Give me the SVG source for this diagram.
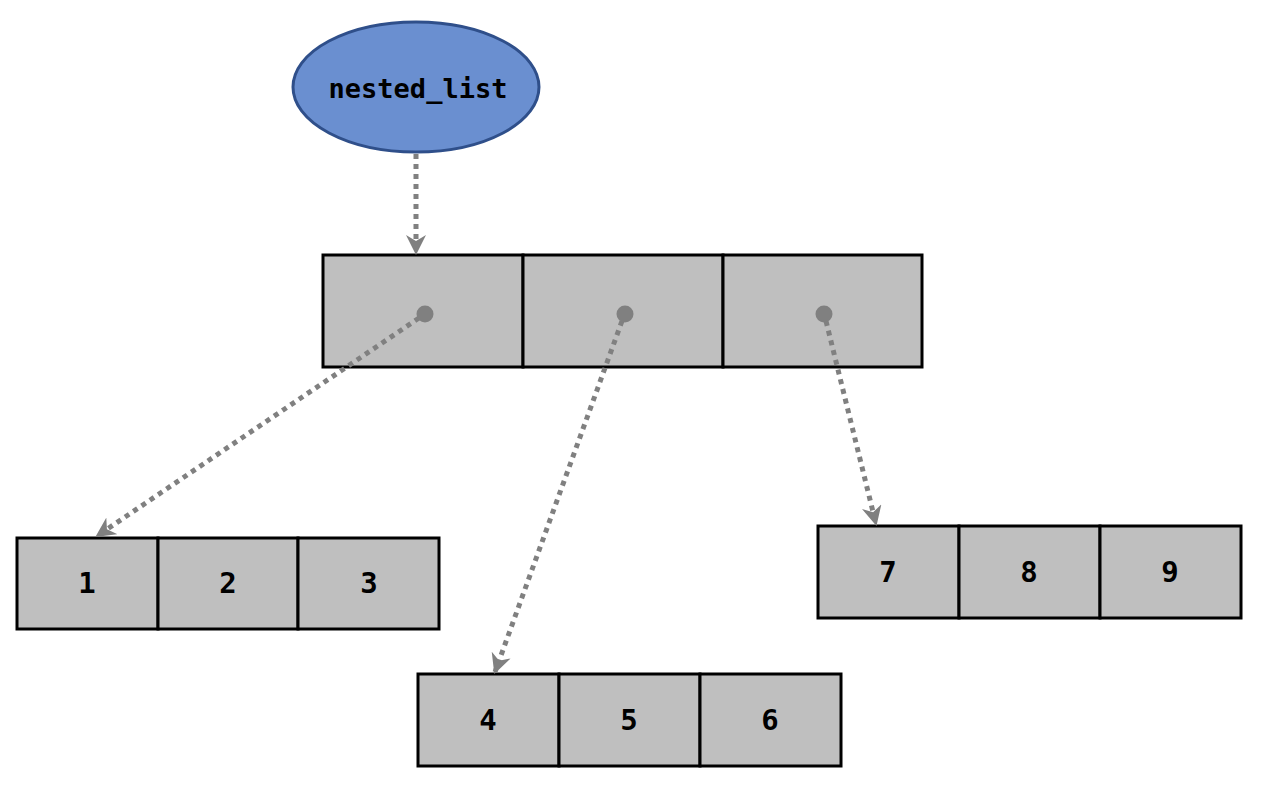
<svg xmlns="http://www.w3.org/2000/svg" width="1264" height="790" viewBox="0 0 1264 790">
<style>
.cell{fill:#bfbfbf;stroke:#000;stroke-width:3}
.lbl{font-family:"DejaVu Sans Mono","Liberation Mono",monospace;font-weight:bold;font-size:29px;fill:#000;text-anchor:middle;dominant-baseline:central}
.edge{fill:none;stroke:#808080;stroke-width:5;stroke-dasharray:5 5}
.dot{fill:#808080}
</style>
<defs>
<marker id="arr" viewBox="0 0 10 10" refX="9" refY="5" markerWidth="4" markerHeight="4" orient="auto" markerUnits="strokeWidth">
<path d="M0,0 L10,5 L0,10 L3,5 Z" fill="#808080"/>
</marker>
</defs>
<rect width="1264" height="790" fill="#fff"/>
<g id="nested_list">
<ellipse cx="416" cy="87" rx="123" ry="65" fill="#6a8fd0" stroke="#2f4f8a" stroke-width="3"/>
<text class="lbl" x="418" y="88" style="font-size:27px">nested_list</text>
</g>
<g id="outer_list">
<rect class="cell" x="323" y="255" width="200" height="112"/>
<rect class="cell" x="523" y="255" width="200" height="112"/>
<rect class="cell" x="723" y="255" width="199" height="112"/>
<ellipse class="dot" cx="425" cy="314" rx="8.5" ry="8.5"/>
<ellipse class="dot" cx="625" cy="314" rx="8.5" ry="8.5"/>
<ellipse class="dot" cx="824" cy="314" rx="8.5" ry="8.5"/>
</g>
<g id="list_123">
<rect class="cell" x="17" y="538" width="141" height="91"/>
<rect class="cell" x="158" y="538" width="140" height="91"/>
<rect class="cell" x="298" y="538" width="141" height="91"/>
<text class="lbl" x="87" y="583">1</text>
<text class="lbl" x="228" y="583">2</text>
<text class="lbl" x="369" y="583">3</text>
</g>
<g id="list_456">
<rect class="cell" x="418" y="674" width="141" height="92"/>
<rect class="cell" x="559" y="674" width="141" height="92"/>
<rect class="cell" x="700" y="674" width="141" height="92"/>
<text class="lbl" x="488" y="720">4</text>
<text class="lbl" x="629" y="720">5</text>
<text class="lbl" x="770" y="720">6</text>
</g>
<g id="list_789">
<rect class="cell" x="818" y="526" width="141" height="92"/>
<rect class="cell" x="959" y="526" width="141" height="92"/>
<rect class="cell" x="1100" y="526" width="141" height="92"/>
<text class="lbl" x="888" y="572">7</text>
<text class="lbl" x="1029" y="572">8</text>
<text class="lbl" x="1170" y="572">9</text>
</g>
<g id="connectors">
<line class="edge" x1="416" y1="154" x2="416" y2="253" marker-end="url(#arr)"/>
<line class="edge" x1="419" y1="318" x2="97" y2="536" marker-end="url(#arr)"/>
<line class="edge" x1="622" y1="321" x2="495" y2="672" marker-end="url(#arr)"/>
<line class="edge" x1="826" y1="321" x2="876" y2="524" marker-end="url(#arr)"/>
</g>
</svg>
